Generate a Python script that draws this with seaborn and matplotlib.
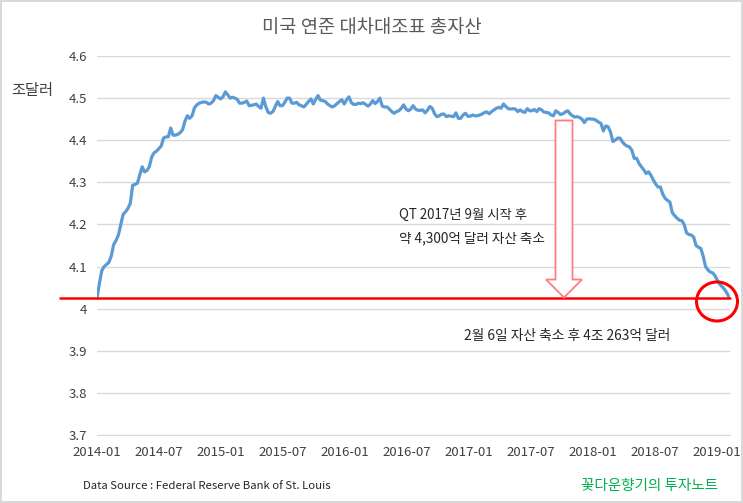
import pandas as pd
import numpy as np
import seaborn as sns
import matplotlib.pyplot as plt
import matplotlib.dates as mdates
from matplotlib.patches import Polygon, Ellipse
from matplotlib.lines import Line2D

# weekly Fed total assets (trillion USD), 2014-01-01 .. 2019-02-06
start_date = '2014-01-01'
assets = [
    # 2014
    4.024, 4.060, 4.090, 4.100, 4.105, 4.110, 4.125, 4.152, 4.162, 4.175,
    4.200, 4.224, 4.230, 4.238, 4.250, 4.293, 4.295, 4.298, 4.318, 4.337,
    4.325, 4.328, 4.337, 4.360, 4.370, 4.374, 4.380, 4.386, 4.405, 4.408,
    4.408, 4.429, 4.412, 4.412, 4.414, 4.418, 4.425, 4.445, 4.458, 4.452,
    4.458, 4.477, 4.484,
    # 2014-10 .. 2015-08
    4.488, 4.490, 4.491, 4.490, 4.486, 4.488, 4.494, 4.506, 4.502, 4.498,
    4.503, 4.515, 4.508, 4.500, 4.502, 4.500, 4.497, 4.488, 4.488, 4.490,
    4.493, 4.482, 4.483, 4.484, 4.486, 4.480, 4.476, 4.500, 4.480, 4.466,
    4.464, 4.468, 4.480, 4.492, 4.482, 4.482, 4.490, 4.500, 4.500, 4.488,
    4.488, 4.490, 4.484,
    # 2015-08 .. 2016-06
    4.482, 4.479, 4.485, 4.492, 4.498, 4.486, 4.497, 4.506, 4.495, 4.494,
    4.492, 4.486, 4.482, 4.479, 4.482, 4.487, 4.492, 4.496, 4.486, 4.496,
    4.503, 4.489, 4.485, 4.485, 4.488, 4.487, 4.489, 4.485, 4.481, 4.486,
    4.494, 4.487, 4.492, 4.500, 4.481, 4.479, 4.479, 4.474, 4.468, 4.464,
    4.468, 4.470,
    # 2016-06 .. 2017-04
    4.476, 4.484, 4.474, 4.470, 4.474, 4.482, 4.474, 4.471, 4.471, 4.472,
    4.465, 4.471, 4.480, 4.476, 4.463, 4.456, 4.458, 4.462, 4.462, 4.456,
    4.458, 4.457, 4.456, 4.465, 4.452, 4.452, 4.460, 4.464, 4.457, 4.457,
    4.460, 4.458, 4.458, 4.460, 4.462, 4.466, 4.467, 4.463, 4.468, 4.472,
    4.476, 4.478,
    # 2017-04 .. 2018-01
    4.476, 4.486, 4.480, 4.475, 4.474, 4.475, 4.474, 4.468, 4.472, 4.468,
    4.466, 4.475, 4.470, 4.470, 4.473, 4.468, 4.475, 4.472, 4.467, 4.466,
    4.465, 4.460, 4.458, 4.470, 4.466, 4.461, 4.463, 4.467, 4.470, 4.463,
    4.458, 4.455, 4.456, 4.454, 4.450, 4.442, 4.450, 4.451, 4.450, 4.450,
    4.447, 4.443, 4.440,
    # 2018-02 .. 2019-02
    4.422, 4.434, 4.432, 4.420, 4.397, 4.400, 4.405, 4.405, 4.396, 4.390,
    4.386, 4.384, 4.376, 4.357, 4.357, 4.345, 4.337, 4.330, 4.321, 4.325,
    4.317, 4.306, 4.296, 4.289, 4.289, 4.272, 4.262, 4.257, 4.253, 4.228,
    4.221, 4.215, 4.210, 4.209, 4.200, 4.180, 4.176, 4.175, 4.170, 4.150,
    4.146, 4.143, 4.125, 4.100, 4.092, 4.087, 4.085, 4.078, 4.067, 4.058,
    4.052, 4.046, 4.037, 4.026,
]
y_ticks = [3.7, 3.8, 3.9, 4.0, 4.1, 4.2, 4.3, 4.4, 4.5, 4.6]
y_labels = ['3.7', '3.8', '3.9', '4', '4.1', '4.2', '4.3', '4.4', '4.5', '4.6']
level_now = 4.0263

df = pd.DataFrame({'date': pd.date_range(start_date, periods=len(assets), freq='7D'),
                   'assets': assets})

sns.set_style('white')
plt.rcParams['font.family'] = ['Noto Sans CJK KR', 'DejaVu Sans']

W, H = 743, 503
fig = plt.figure(figsize=(W / 100, H / 100), dpi=100)
fig.patch.set_edgecolor('#d9d9d9')
fig.patch.set_linewidth(1.5)

def fx(px):
    return px / W

def fy(py):
    return 1 - py / H

ax = fig.add_axes([fx(97), fy(435), fx(730) - fx(97), fy(56) - fy(435)])

ax.grid(axis='y', color='#d9d9d9', linewidth=1)
ax.set_axisbelow(True)
sns.lineplot(data=df, x='date', y='assets', ax=ax, color='#5B9BD5', linewidth=2.3)

ax.set_ylim(3.7, 4.6)
ax.set_yticks(y_ticks)
ax.set_yticklabels(y_labels)
ax.set_xlim(pd.Timestamp('2014-01-01'), pd.Timestamp('2019-02-08'))
ax.xaxis.set_major_locator(mdates.MonthLocator(bymonth=[1, 7]))
ax.xaxis.set_major_formatter(mdates.DateFormatter('%Y-%m'))
ax.set_xlabel('')
ax.set_ylabel('')
for s in ['top', 'right', 'left']:
    ax.spines[s].set_visible(False)
ax.spines['bottom'].set_color('#d9d9d9')
ax.tick_params(axis='y', length=0, pad=7, labelsize=9.5, labelcolor='#404040')
ax.tick_params(axis='x', length=4, color='#d9d9d9', pad=4, labelsize=9.5, labelcolor='#404040')

# red reference line at the current level
ax.axhline(level_now, xmin=-0.058, xmax=1.0, color='#ff0000', linewidth=1.8, clip_on=False, zorder=4)

# hollow down arrow
arrow_px = [(555.5, 120.5), (572.5, 120.5), (572.5, 279.5), (582, 279.5), (564, 297.5),
            (546, 279.5), (555.5, 279.5)]
fig.patches.append(Polygon([(fx(x), fy(y)) for x, y in arrow_px], closed=True,
                           transform=fig.transFigure, facecolor='white',
                           edgecolor='#ff7c80', linewidth=1.3, zorder=3))

# circle at the end of the line
fig.patches.append(Ellipse((fx(717), fy(301.5)), 2 * 20.5 / W, 2 * 19.5 / H,
                           transform=fig.transFigure, facecolor='none',
                           edgecolor='#ff0000', linewidth=2.2, zorder=5))

fig.text(0.5, fy(27), '미국 연준 대차대조표 총자산', ha='center', va='center',
         fontsize=13.5, color='#595959')
fig.text(fx(32), fy(90), '조달러', ha='center', va='center', fontsize=11, color='#404040')
fig.text(fx(399), fy(215), 'QT 2017년 9월 시작 후', ha='left', va='center',
         fontsize=9.6, color='#262626')
fig.text(fx(399), fy(238), '약 4,300억 달러 자산 축소', ha='left', va='center',
         fontsize=9.8, color='#262626')
fig.text(fx(464), fy(336), '2월 6일 자산 축소 후 4조 263억 달러', ha='left', va='center',
         fontsize=9.9, color='#262626')
fig.text(fx(83), fy(486), 'Data Source : Federal Reserve Bank of St. Louis', ha='left',
         va='center', fontsize=8.2, color='#262626')
fig.text(fx(718), fy(486), '꽃다운향기의 투자노트', ha='right', va='center',
         fontsize=10.5, color='#00b050')

fig.savefig('out.png', dpi=100)
